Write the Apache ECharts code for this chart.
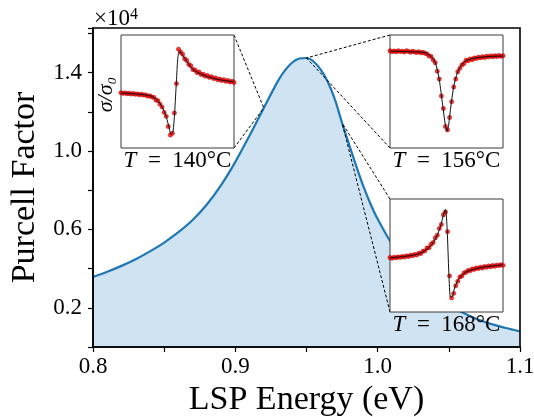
<!DOCTYPE html>
<html>
<head>
<meta charset="utf-8">
<script src="https://cdn.jsdelivr.net/npm/echarts@6/dist/echarts.min.js"></script>
<style>
  html, body { margin: 0; padding: 0; background: #ffffff; }
  #chart { width: 534px; height: 417px; }
</style>
</head>
<body>
<div id="chart"></div>
<script>
// Purcell factor of the localized surface plasmon (LSP) versus its energy
const energy = [0.80, 0.81, 0.82, 0.83, 0.84, 0.85, 0.86, 0.87, 0.88, 0.89, 0.90, 0.91, 0.92, 0.93,
  0.935, 0.94, 0.945, 0.95, 0.955, 0.96, 0.965, 0.97, 0.975, 0.98, 0.985, 0.99, 0.995, 1.00, 1.01,
  1.02, 1.03, 1.04, 1.05, 1.06, 1.07, 1.08, 1.09, 1.10];
const purcell = [3570, 3840, 4140, 4480, 4880, 5330, 5860, 6480, 7270, 8260, 9450, 10790, 12200, 13580,
  14130, 14520, 14720, 14750, 14570, 14150, 13520, 12620, 11430, 10320, 9220, 8200, 7300, 6530, 5250,
  4200, 3350, 2680, 2150, 1750, 1420, 1170, 970, 800];

const xTickLabels = [0.8, 0.9, 1.0, 1.1];
const yTickLabels = [0.2, 0.6, 1.0, 1.4];

// Normalised conductance traces sigma/sigma0 at three temperatures
const temperatures = ['140°C', '156°C', '168°C'];
// energies on the curve that each trace belongs to
const anchorEnergy = [0.92, 0.95, 0.975];

const fit140U = [0, 0.199, 0.288, 0.347, 0.392, 0.421, 0.442, 0.460, 0.475, 0.490, 0.504, 0.519, 0.540, 0.585, 0.644, 0.733, 0.852, 1];
const fit140V = [0.487, 0.472, 0.451, 0.392, 0.303, 0.199, 0.125, 0.145, 0.318, 0.585, 0.807, 0.858, 0.828, 0.763, 0.688, 0.644, 0.608, 0.585];
const dots140 = [0.490, 0.483, 0.488, 0.480, 0.485, 0.477, 0.482, 0.475, 0.479, 0.471, 0.476, 0.468, 0.470, 0.459,
  0.462, 0.452, 0.447, 0.425, 0.418, 0.388, 0.362, 0.315, 0.280, 0.190, 0.115, 0.130, 0.310, 0.570, 0.875, 0.850,
  0.830, 0.790, 0.775, 0.740, 0.728, 0.695, 0.690, 0.668, 0.672, 0.650, 0.652, 0.636, 0.641, 0.625, 0.632, 0.615,
  0.620, 0.603, 0.610, 0.598, 0.605, 0.590, 0.598, 0.584, 0.592, 0.580];

const fit156U = [0, 0.199, 0.318, 0.377, 0.407, 0.436, 0.466, 0.490, 0.504, 0.519, 0.540, 0.570, 0.614, 0.674, 0.763, 0.881, 1];
const fit156V = [0.857, 0.851, 0.842, 0.798, 0.738, 0.604, 0.381, 0.202, 0.149, 0.202, 0.381, 0.574, 0.708, 0.774, 0.798, 0.810, 0.813];
const dots156 = [0.860, 0.852, 0.858, 0.851, 0.860, 0.853, 0.857, 0.849, 0.861, 0.855, 0.848, 0.856, 0.850, 0.845,
  0.852, 0.842, 0.847, 0.838, 0.833, 0.815, 0.810, 0.780, 0.755, 0.680, 0.610, 0.460, 0.350, 0.190, 0.160, 0.270,
  0.410, 0.540, 0.610, 0.675, 0.705, 0.735, 0.748, 0.776, 0.772, 0.789, 0.781, 0.796, 0.792, 0.803, 0.798, 0.808,
  0.800, 0.812, 0.806, 0.815, 0.808, 0.816, 0.810, 0.818, 0.811, 0.816];

const fit168U = [0, 0.147, 0.265, 0.353, 0.412, 0.450, 0.476, 0.491, 0.506, 0.521, 0.535, 0.553, 0.574, 0.618, 0.676, 0.794, 0.912, 1];
const fit168V = [0.479, 0.494, 0.518, 0.577, 0.666, 0.769, 0.873, 0.908, 0.725, 0.340, 0.133, 0.139, 0.222, 0.305, 0.355, 0.391, 0.408, 0.417];
const dots168 = [0.482, 0.476, 0.484, 0.479, 0.488, 0.483, 0.492, 0.486, 0.497, 0.491, 0.503, 0.498, 0.510, 0.505,
  0.520, 0.518, 0.538, 0.541, 0.566, 0.568, 0.600, 0.615, 0.655, 0.680, 0.740, 0.775, 0.860, 0.885, 0.710, 0.320,
  0.125, 0.165, 0.232, 0.272, 0.310, 0.318, 0.345, 0.352, 0.368, 0.366, 0.380, 0.377, 0.390, 0.384, 0.397, 0.390,
  0.402, 0.396, 0.408, 0.400, 0.412, 0.405, 0.415, 0.410, 0.418, 0.413];

const traces = [
  { u: fit140U, v: fit140V, dots: dots140 },
  { u: fit156U, v: fit156V, dots: dots156 },
  { u: fit168U, v: fit168V, dots: dots168 }
];

// ---- layout ----
const SERIF = '"Liberation Serif", "DejaVu Serif", serif';
const MAIN = { left: 93, top: 28, width: 427, height: 319 };
const INSETS = [
  { left: 121, top: 35, width: 113, height: 113, side: 'right' },
  { left: 390, top: 35, width: 113, height: 113, side: 'left' },
  { left: 390, top: 199, width: 113, height: 113, side: 'left' }
];

const chart = echarts.init(document.getElementById('chart'), null, { renderer: 'canvas' });

const grids = [{
  left: MAIN.left, top: MAIN.top, width: MAIN.width, height: MAIN.height,
  containLabel: false, outerBoundsMode: 'none',
  show: true, borderColor: '#000', borderWidth: 1.6, backgroundColor: 'transparent', z: 3
}];
const xAxes = [{
  gridIndex: 0, type: 'value', min: 0.8, max: 1.1, interval: 0.05,
  name: 'LSP Energy (eV)', nameLocation: 'middle', nameGap: 20,
  nameTextStyle: { fontFamily: SERIF, fontSize: 34, color: '#000' },
  axisLine: { show: true, lineStyle: { color: '#000', width: 1.6 } },
  axisTick: { show: true, inside: false, length: 5, lineStyle: { color: '#000', width: 1.2 } },
  axisLabel: {
    margin: 8, fontFamily: SERIF, fontSize: 23, color: '#000',
    formatter: v => xTickLabels.some(t => Math.abs(t - v) < 1e-6) ? v.toFixed(1) : ''
  },
  splitLine: { show: false }, z: 4
}];
const yAxes = [{
  gridIndex: 0, type: 'value', min: 0, max: 16280, interval: 2000,
  name: 'Purcell Factor', nameLocation: 'middle', nameGap: 51, nameRotate: 90,
  nameTextStyle: { fontFamily: SERIF, fontSize: 34, color: '#000' },
  axisLine: { show: true, lineStyle: { color: '#000', width: 1.6 } },
  axisTick: { show: true, inside: false, length: 5, lineStyle: { color: '#000', width: 1.2 } },
  axisLabel: {
    margin: 11, fontFamily: SERIF, fontSize: 23, color: '#000',
    formatter: v => yTickLabels.some(t => Math.abs(t * 1e4 - v) < 1e-3) ? (v / 1e4).toFixed(1) : ''
  },
  splitLine: { show: false }, z: 4
}];

const series = [{
  type: 'line', xAxisIndex: 0, yAxisIndex: 0,
  data: energy.map((e, i) => [e, purcell[i]]),
  smooth: 0.3, showSymbol: false, z: 2,
  lineStyle: { color: '#1f77b4', width: 2.2 },
  areaStyle: { color: 'rgb(207,227,243)', opacity: 1, origin: 'start' }
}];

INSETS.forEach((box, k) => {
  const gi = k + 1;
  grids.push({
    left: box.left, top: box.top, width: box.width, height: box.height,
    containLabel: false, outerBoundsMode: 'none',
    show: true, borderColor: '#3a3a3a', borderWidth: 1, backgroundColor: '#ffffff', z: 10
  });
  xAxes.push({ gridIndex: gi, type: 'value', min: 0, max: 1, show: false });
  yAxes.push({ gridIndex: gi, type: 'value', min: 0, max: 1, show: false });
  const tr = traces[k];
  const n = tr.dots.length;
  series.push({
    type: 'scatter', xAxisIndex: gi, yAxisIndex: gi, z: 11,
    data: tr.dots.map((d, i) => [i / (n - 1), d]),
    symbol: 'circle', symbolSize: 4.4,
    itemStyle: { color: '#f00000', borderColor: '#a00000', borderWidth: 0.4 },
    silent: true
  });
  series.push({
    type: 'line', xAxisIndex: gi, yAxisIndex: gi, z: 12,
    data: tr.u.map((u, i) => [u, tr.v[i]]),
    smooth: 0.25, showSymbol: false,
    lineStyle: { color: '#111111', width: 1 },
    silent: true
  });
});

chart.setOption({
  animation: false,
  backgroundColor: '#ffffff',
  grid: grids, xAxis: xAxes, yAxis: yAxes, series: series
});

// ---- annotations: connectors, temperature captions, offset text ----
const graphics = [];
INSETS.forEach((box, k) => {
  const idx = energy.findIndex(e => Math.abs(e - anchorEnergy[k]) < 1e-9);
  const p = chart.convertToPixel({ gridIndex: 0 }, [energy[idx], purcell[idx]]);
  const ex = box.side === 'right' ? box.left + box.width : box.left;
  [box.top, box.top + box.height].forEach(ey => {
    graphics.push({
      type: 'line', z: 6, silent: true,
      shape: { x1: ex, y1: ey, x2: p[0], y2: p[1] },
      style: { stroke: '#000', lineWidth: 1, lineDash: [3, 2] }
    });
  });
  graphics.push({
    type: 'text', z: 13, silent: true,
    x: box.left + box.width / 2, y: box.top + box.height + 1,
    style: {
      text: '{it|T}\u2002=\u2002' + temperatures[k],
      font: '23px ' + SERIF, fill: '#000',
      align: 'center', verticalAlign: 'top',
      rich: { it: { fontStyle: 'italic', fontFamily: SERIF, fontSize: 23, fill: '#000' } }
    }
  });
});

// ordinate caption of the first trace
graphics.push({
  type: 'text', z: 13, silent: true,
  x: 106, y: INSETS[0].top + INSETS[0].height / 2 + 3, rotation: Math.PI / 2,
  style: {
    text: 'σ/σ₀', font: 'italic 22px ' + SERIF, fill: '#000',
    align: 'center', verticalAlign: 'middle'
  }
});

// axis scale factor
graphics.push({
  type: 'text', z: 13, silent: true,
  x: MAIN.left + 1, y: MAIN.top + 2,
  style: {
    text: '{a|×10}{b|4}', fill: '#000',
    align: 'left', verticalAlign: 'bottom',
    rich: {
      a: { fontFamily: SERIF, fontSize: 23, fill: '#000' },
      b: { fontFamily: SERIF, fontSize: 16, fill: '#000', verticalAlign: 'top' }
    }
  }
});

chart.setOption({ graphic: graphics });
</script>
</body>
</html>
